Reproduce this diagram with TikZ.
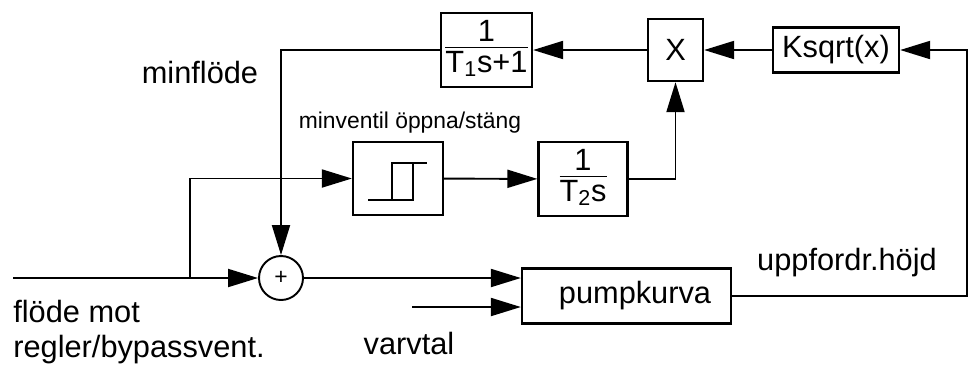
\documentclass[tikz,border=0pt]{standalone}
\usepackage{fontspec}
\setmainfont{Liberation Sans}
\usetikzlibrary{arrows.meta}

% stacked transfer function: numerator over a rule over the denominator
\newcommand{\tfrac}[2]{\begin{tabular}{@{}c@{}}#1\\[-3pt]\hline #2\end{tabular}}

\begin{document}
\begin{tikzpicture}[x=0.2mm,y=-0.2mm,font=\fontsize{17.5}{20}\selectfont,
block/.style={draw,line width=1.3pt,inner sep=1pt},
arrow/.style={-{Triangle[length=6mm,width=3.6mm]},line width=1.1pt}]
\useasboundingbox (0,0) rectangle (974,365);
% upper chain
\node[block,minimum width=1.82cm,minimum height=1.48cm] (lag) at (486.5,50) {\tfrac{1}{T\textsubscript{1}s+1}};
\node[block,minimum width=1.1cm,minimum height=1.24cm] (mult) at (675.5,50) {X};
\node[block,minimum width=2.52cm,minimum height=0.9cm] (root) at (836,50) {Ksqrt(x)};
% valve branch
\node[block,minimum width=1.8cm,minimum height=1.46cm] (relay) at (398,178.5) {};
\draw[line width=1.1pt,shift={(relay.center)}] (-30,21.5) -- (15,21.5) -- (15,-15.5)
 (-6,21.5) -- (-6,-15.5) -- (29,-15.5);
\node[block,minimum width=1.78cm,minimum height=1.48cm] (integ) at (583,179) {\tfrac{1}{T\textsubscript{2}s}};
% main path
\node[circle,draw,line width=1.1pt,minimum size=0.88cm,inner sep=0pt,font=\fontsize{13}{14}\selectfont] (sum) at (281,278) {+};
\node[block,minimum width=4.18cm,minimum height=1.1cm] (pump) at (626.5,296) {\hspace{3.4mm}pumpkurva};
\coordinate (in) at (13,278);
\coordinate (branch) at (190,278);
\coordinate (speed) at (412,307);
\coordinate (ret) at (967,50);

\draw[arrow] (in) -- (sum);
\draw[arrow] (branch) |- (relay);
\draw[arrow] (relay) -- (integ);
\draw[arrow] (integ.east) -| (mult.south);
\draw[arrow] (root) -- (mult);
\draw[arrow] (mult) -- (lag);
\draw[arrow] (lag.west) -| (sum.north);
\draw[arrow] (sum) -- (sum -| pump.west);
\draw[arrow] (speed) -- (speed -| pump.west);
\draw[arrow] (pump.east) -| (ret) -- (root.east);

% signal names
\node (minflow) at (200,73) {minflöde};
\node[font=\fontsize{13}{15}\selectfont] (valvelbl) at (410,123) {minventil öppna/stäng};
\node[anchor=north west,align=left,inner sep=0pt] (flowlbl) at (13,300) {flöde mot\\regler/bypassvent.};
\node (speedlbl) at (409,343) {varvtal};
\node (headlbl) at (847,263) {uppfordr.höjd};
\end{tikzpicture}
\end{document}
